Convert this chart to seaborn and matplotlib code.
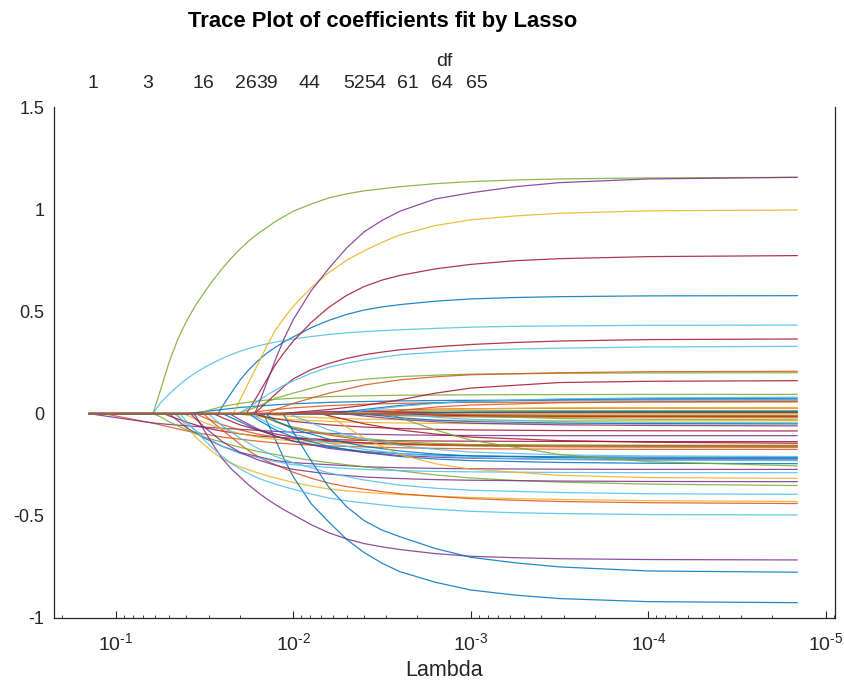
import numpy as np
import pandas as pd
import matplotlib
matplotlib.use("Agg")
import matplotlib.pyplot as plt
import seaborn as sns
from matplotlib.ticker import LogLocator, FixedLocator, NullLocator, FuncFormatter

# log10(lambda) where the path starts
log_lambda_max = -0.848
# grids (log10 lambda) the traces were read at: fine one for the big curves, coarse for the rest
fine_grid = [-1.2, -1.25, -1.3, -1.35, -1.4, -1.45, -1.5, -1.55, -1.6, -1.65, -1.7, -1.75,
             -1.8, -1.85, -1.9, -1.95, -2.0, -2.1, -2.2, -2.3, -2.4, -2.5, -2.6, -2.8,
             -3.0, -3.25, -3.5, -4.0, -4.84]
coarse_grid = [-1.2, -1.3, -1.4, -1.5, -1.6, -1.7, -1.8, -1.9, -2.0,
               -2.2, -2.4, -2.6, -2.8, -3.0, -3.5, -4.0, -4.84]

# MATLAB default colour order (coefficient i gets colour i % 7)
line_colors = ["#0072BD", "#D95319", "#EDB120", "#7E2F8E", "#77AC30", "#4DBEEE", "#A2142F"]

# large coefficients: index, log10 lambda where they leave zero, values at last len(row) fine_grid points
major_index = [0, 2, 4, 5, 7, 8, 11, 13, 16, 17, 19, 20, 33, 38, 42]
major_entry = [-1.577, -1.343, -1.21, -1.21, -1.83, -1.493, -1.21, -1.737, -1.662, -1.437,
               -1.362, -1.784, -1.69, -1.784, -1.944]
major_paths = [
    [0.035, 0.10, 0.164, 0.215, 0.258, 0.295, 0.325, 0.352, 0.375, 0.42, 0.456, 0.485, 0.507,
     0.522, 0.533, 0.55, 0.561, 0.568, 0.572, 0.576, 0.577],
    [-0.008, -0.065, -0.115, -0.155, -0.19, -0.22, -0.242, -0.26, -0.276, -0.29, -0.303, -0.315,
     -0.326, -0.337, -0.354, -0.369, -0.378, -0.385, -0.391, -0.396, -0.404, -0.41, -0.416,
     -0.42, -0.426, -0.43],
    [0.11, 0.25, 0.365, 0.455, 0.53, 0.595, 0.655, 0.71, 0.76, 0.805, 0.845, 0.88, 0.91, 0.94,
     0.965, 0.99, 1.025, 1.055, 1.075, 1.09, 1.10, 1.11, 1.125, 1.135, 1.143, 1.148, 1.153, 1.156],
    [0.05, 0.095, 0.135, 0.17, 0.20, 0.226, 0.249, 0.27, 0.289, 0.305, 0.319, 0.331, 0.341, 0.35,
     0.358, 0.365, 0.377, 0.387, 0.395, 0.401, 0.406, 0.41, 0.417, 0.423, 0.427, 0.429, 0.432, 0.433],
    [-0.035, -0.13, -0.225, -0.309, -0.44, -0.53, -0.615, -0.68, -0.732, -0.773, -0.825, -0.863,
     -0.888, -0.905, -0.92, -0.925],
    [-0.005, -0.045, -0.08, -0.115, -0.15, -0.182, -0.21, -0.232, -0.25, -0.269, -0.287, -0.316,
     -0.34, -0.357, -0.37, -0.382, -0.392, -0.405, -0.416, -0.424, -0.43, -0.436, -0.44],
    [-0.015, -0.04, -0.06, -0.08, -0.098, -0.115, -0.128, -0.14, -0.153, -0.165, -0.175, -0.185,
     -0.193, -0.20, -0.208, -0.215, -0.228, -0.24, -0.25, -0.26, -0.27, -0.28, -0.30, -0.315,
     -0.327, -0.335, -0.345, -0.352],
    [0.02, 0.09, 0.165, 0.24, 0.30, 0.355, 0.445, 0.52, 0.578, 0.622, 0.653, 0.676, 0.708, 0.73,
     0.748, 0.758, 0.768, 0.773],
    [0.067, 0.155, 0.24, 0.33, 0.41, 0.47, 0.525, 0.615, 0.69, 0.75, 0.797, 0.838, 0.874, 0.92,
     0.948, 0.967, 0.98, 0.992, 0.996],
    [-0.012, -0.085, -0.155, -0.22, -0.27, -0.31, -0.35, -0.385, -0.417, -0.445, -0.472, -0.495,
     -0.543, -0.583, -0.613, -0.636, -0.652, -0.665, -0.685, -0.698, -0.705, -0.71, -0.714, -0.716],
    [-0.04, -0.085, -0.13, -0.172, -0.21, -0.243, -0.27, -0.294, -0.315, -0.331, -0.345, -0.358,
     -0.37, -0.393, -0.413, -0.427, -0.437, -0.447, -0.456, -0.468, -0.478, -0.485, -0.489,
     -0.494, -0.496],
    [0.015, 0.055, 0.095, 0.135, 0.17, 0.215, 0.245, 0.27, 0.288, 0.301, 0.312, 0.327, 0.338,
     0.348, 0.355, 0.362, 0.365],
    [0.005, 0.03, 0.06, 0.09, 0.115, 0.14, 0.16, 0.197, 0.227, 0.247, 0.262, 0.276, 0.288, 0.30,
     0.31, 0.316, 0.32, 0.326, 0.329],
    [0.035, 0.15, 0.265, 0.37, 0.46, 0.60, 0.71, 0.81, 0.89, 0.945, 0.99, 1.05, 1.08, 1.11, 1.13,
     1.148, 1.156],
    [-0.01, -0.09, -0.23, -0.36, -0.455, -0.524, -0.57, -0.602, -0.66, -0.703, -0.73, -0.75,
     -0.77, -0.776],
]

# small coefficients, values at last len(row) coarse_grid points
minor_index = [1, 3, 6, 9, 10, 12, 14, 15, 18, 21, 22, 23, 24, 25, 26, 27, 28, 29, 30, 31,
               32, 34, 35, 36, 37, 39, 40, 41, 43, 44, 45, 46, 47, 48, 49, 50, 51, 52, 53, 54,
               55, 56, 57, 58, 59, 60, 61, 62, 63, 64]
minor_entry = [-0.93, -0.848, -1.27, -1.38, -1.30, -1.33, -1.40, -1.45, -1.47, -1.60, -1.74,
               -1.68, -1.42, -1.69, -1.52, -1.55, -1.75, -1.80, -1.82, -1.64, -1.79, -1.77,
               -1.84, -1.85, -2.18, -2.12, -1.76, -1.95, -2.05, -2.48, -1.90, -2.33, -1.98,
               -2.15, -2.22, -2.25, -2.68, -2.28, -2.53, -2.30, -2.43, -2.38, -2.50, -2.95,
               -2.56, -2.78, -2.58, -2.62, -2.60, -2.72]
minor_paths = [
    [-0.045, -0.065, -0.085, -0.10, -0.115, -0.125, -0.135, -0.143, -0.15, -0.158, -0.163,
     -0.167, -0.17, -0.172, -0.174, -0.175, -0.175],
    [-0.045, -0.053, -0.06, -0.066, -0.072, -0.077, -0.082, -0.087, -0.091, -0.097, -0.101,
     -0.104, -0.106, -0.107, -0.108, -0.108, -0.108],
    [-0.011, -0.042, -0.069, -0.086, -0.099, -0.11, -0.115, -0.121, -0.127, -0.131, -0.133,
     -0.134, -0.135, -0.136, -0.137, -0.137],
    [-0.008, -0.045, -0.075, -0.098, -0.115, -0.126, -0.134, -0.144, -0.15, -0.154, -0.156,
     -0.157, -0.159, -0.16, -0.16],
    [-0.07, -0.12, -0.16, -0.19, -0.21, -0.23, -0.24, -0.25, -0.26, -0.265, -0.268, -0.27,
     -0.272, -0.273, -0.273],
    [-0.05, -0.115, -0.16, -0.195, -0.215, -0.235, -0.25, -0.263, -0.273, -0.279, -0.283,
     -0.285, -0.288, -0.289, -0.289],
    [0.01, 0.02, 0.03, 0.037, 0.043, 0.048, 0.055, 0.059, 0.062, 0.064, 0.065, 0.066, 0.067, 0.067],
    [-0.02, -0.054, -0.08, -0.10, -0.115, -0.124, -0.137, -0.144, -0.148, -0.151, -0.152,
     -0.154, -0.155, -0.155],
    [0.01, 0.035, 0.05, 0.062, 0.07, 0.075, 0.083, 0.087, 0.09, 0.091, 0.092, 0.093, 0.094, 0.094],
    [-0.04, -0.08, -0.11, -0.135, -0.165, -0.185, -0.196, -0.203, -0.207, -0.211, -0.213, -0.214],
    [0.01, 0.02, 0.028, 0.039, 0.046, 0.05, 0.053, 0.055, 0.056, 0.057, 0.057],
    [-0.003, -0.015, -0.024, -0.03, -0.038, -0.043, -0.046, -0.048, -0.049, -0.05, -0.05, -0.05],
    [-0.067, -0.137, -0.19, -0.226, -0.253, -0.273, -0.296, -0.31, -0.318, -0.323, -0.326,
     -0.33, -0.332, -0.333],
    [0.035, 0.075, 0.10, 0.147, 0.168, 0.181, 0.188, 0.193, 0.197, 0.199, 0.2],
    [-0.06, -0.12, -0.17, -0.21, -0.24, -0.29, -0.325, -0.35, -0.365, -0.375, -0.386, -0.392, -0.395],
    [-0.02, -0.055, -0.08, -0.10, -0.115, -0.133, -0.143, -0.149, -0.153, -0.155, -0.158, -0.159, -0.16],
    [-0.03, -0.08, -0.115, -0.16, -0.19, -0.21, -0.222, -0.23, -0.239, -0.243, -0.245],
    [-0.04, -0.07, -0.105, -0.13, -0.145, -0.153, -0.158, -0.163, -0.164, -0.165],
    [-0.008, -0.014, -0.022, -0.027, -0.03, -0.032, -0.033, -0.034, -0.035, -0.035],
    [-0.03, -0.075, -0.11, -0.135, -0.17, -0.19, -0.205, -0.213, -0.218, -0.224, -0.226, -0.227],
    [-0.004, -0.04, -0.065, -0.1, -0.122, -0.137, -0.146, -0.151, -0.157, -0.159, -0.16],
    [-0.008, -0.025, -0.038, -0.055, -0.066, -0.073, -0.077, -0.08, -0.083, -0.084, -0.085],
    [-0.035, -0.075, -0.125, -0.16, -0.183, -0.198, -0.207, -0.216, -0.219, -0.22],
    [0.02, 0.05, 0.10, 0.14, 0.165, 0.18, 0.19, 0.2, 0.205, 0.207],
    [-0.01, -0.12, -0.2, -0.245, -0.272, -0.302, -0.313, -0.317],
    [0.003, 0.008, 0.011, 0.013, 0.014, 0.015, 0.015, 0.015],
    [-0.02, -0.065, -0.1, -0.145, -0.175, -0.195, -0.207, -0.215, -0.225, -0.228, -0.23],
    [0.005, 0.02, 0.04, 0.067, 0.10, 0.125, 0.152, 0.158, 0.161],
    [0.008, 0.014, 0.019, 0.022, 0.024, 0.026, 0.027, 0.027],
    [0.01, 0.018, 0.023, 0.028, 0.029, 0.03],
    [0.005, 0.01, 0.01, 0.008, 0.006, 0.005, 0.004, 0.004, 0.004],
    [-0.002, -0.004, -0.005, -0.006, -0.007, -0.007, -0.007],
    [-0.01, -0.08, -0.125, -0.155, -0.175, -0.188, -0.202, -0.207, -0.21],
    [-0.01, -0.05, -0.08, -0.1, -0.115, -0.132, -0.14, -0.145],
    [0.02, 0.04, 0.052, 0.06, 0.069, 0.073, 0.075],
    [-0.005, -0.01, -0.013, -0.016, -0.018, -0.019, -0.02],
    [-0.006, -0.011, -0.017, -0.019, -0.02],
    [-0.012, -0.028, -0.04, -0.047, -0.055, -0.058, -0.06],
    [-0.02, -0.08, -0.13, -0.2, -0.235, -0.256],
    [0.015, 0.035, 0.05, 0.06, 0.072, 0.077, 0.08],
    [0.003, 0.004, 0.005, 0.005, 0.005, 0.005],
    [-0.002, -0.02, -0.032, -0.039, -0.046, -0.049, -0.05],
    [0.015, 0.032, 0.042, 0.053, 0.058, 0.06],
    [0.002, 0.003, 0.002, 0.001],
    [0.001, 0.004, 0.006, 0.007, 0.008, 0.008],
    [-0.001, -0.012, -0.024, -0.028, -0.03],
    [-0.002, -0.018, -0.028, -0.039, -0.043, -0.045],
    [-0.007, -0.01, -0.013, -0.014, -0.015],
    [0.005, 0.007, 0.009, 0.01, 0.01],
    [-0.003, -0.006, -0.009, -0.01, -0.01],
]

# degrees of freedom shown along the top
df_log_lambda = [-0.872, -1.181, -1.491, -1.732, -1.852, -2.094, -2.342, -2.460, -2.646, -2.837, -3.035]
df_labels = ["1", "3", "16", "26", "39", "44", "52", "54", "61", "64", "65"]

ytick_values = [-1, -0.5, 0, 0.5, 1, 1.5]
ytick_labels = ["-1", "-0.5", "0", "0.5", "1", "1.5"]

# long table of all traces
rows = []
for grid, idxs, entries, paths in [(fine_grid, major_index, major_entry, major_paths),
                                   (coarse_grid, minor_index, minor_entry, minor_paths)]:
    for idx, ent, vals in zip(idxs, entries, paths):
        xs = [log_lambda_max, ent] + grid[-len(vals):]
        ys = [0.0, 0.0] + list(vals)
        for lx, v in zip(xs, ys):
            rows.append({"coef_id": f"c{idx:02d}", "lambda": 10 ** lx, "value": v})
traces = pd.DataFrame(rows)
order = sorted(traces["coef_id"].unique())
palette = {c: line_colors[int(c[1:]) % 7] for c in order}

sns.set_theme(style="white")
plt.rcParams["font.family"] = ["Liberation Sans", "DejaVu Sans"]
plt.rcParams["axes.unicode_minus"] = False
plt.rcParams["mathtext.default"] = "regular"

axis_color = "#262626"
fig = plt.figure(figsize=(8.45, 6.82), dpi=100)
ax = fig.add_axes([54 / 845, 1 - 618 / 682, (835 - 54) / 845, (618 - 107) / 682])

sns.lineplot(data=traces, x="lambda", y="value", hue="coef_id", hue_order=order,
             palette=palette, units="coef_id", estimator=None, sort=False,
             legend=False, linewidth=0.9, alpha=0.85, ax=ax)

ax.set_xscale("log")
ax.set_xlim(10 ** -0.652, 10 ** -5.052)
ax.set_ylim(-1, 1.5)
ax.xaxis.set_major_locator(LogLocator(base=10, numticks=12))
ax.xaxis.set_minor_locator(LogLocator(base=10, subs=np.arange(2, 10), numticks=12))
ax.xaxis.set_major_formatter(FuncFormatter(
    lambda v, p: "$10^{\u2010%d}$" % abs(round(np.log10(v)))))
ax.set_yticks(ytick_values)
ax.set_yticklabels(ytick_labels)

ax.tick_params(axis="both", which="both", direction="in", color=axis_color,
               labelcolor=axis_color, labelsize=13)
ax.tick_params(axis="x", which="major", length=5, width=0.8, pad=10, labelsize=14)
ax.tick_params(axis="x", which="minor", length=2.5, width=0.6)
ax.tick_params(axis="y", which="major", length=5, width=0.8, pad=7, right=False)
for side in ["left", "bottom", "right"]:
    ax.spines[side].set_color(axis_color)
    ax.spines[side].set_linewidth(0.9)
ax.spines["top"].set_visible(False)

ax.set_xlabel("Lambda", fontsize=15.5, color=axis_color, va="top")
ax.xaxis.set_label_coords(0.5, (618 - 660) / 511)
ax.set_ylabel("")

# df labels on top
ax2 = ax.twiny()
ax2.set_xscale("log")
ax2.set_xlim(ax.get_xlim())
ax2.xaxis.set_major_locator(FixedLocator([10 ** v for v in df_log_lambda]))
ax2.xaxis.set_minor_locator(NullLocator())
ax2.set_xticklabels(df_labels)
ax2.tick_params(axis="x", length=0, labelsize=14, pad=11, labelcolor=axis_color)
for s in ax2.spines.values():
    s.set_visible(False)
ax2.set_xlabel("df", fontsize=14, color=axis_color, labelpad=6)

fig.text(383 / 845, 1 - 22 / 682, "Trace Plot of coefficients fit by Lasso",
         ha="center", va="center", fontsize=15.8, fontweight="bold", color="black")

fig.savefig("out.png", dpi=100)
